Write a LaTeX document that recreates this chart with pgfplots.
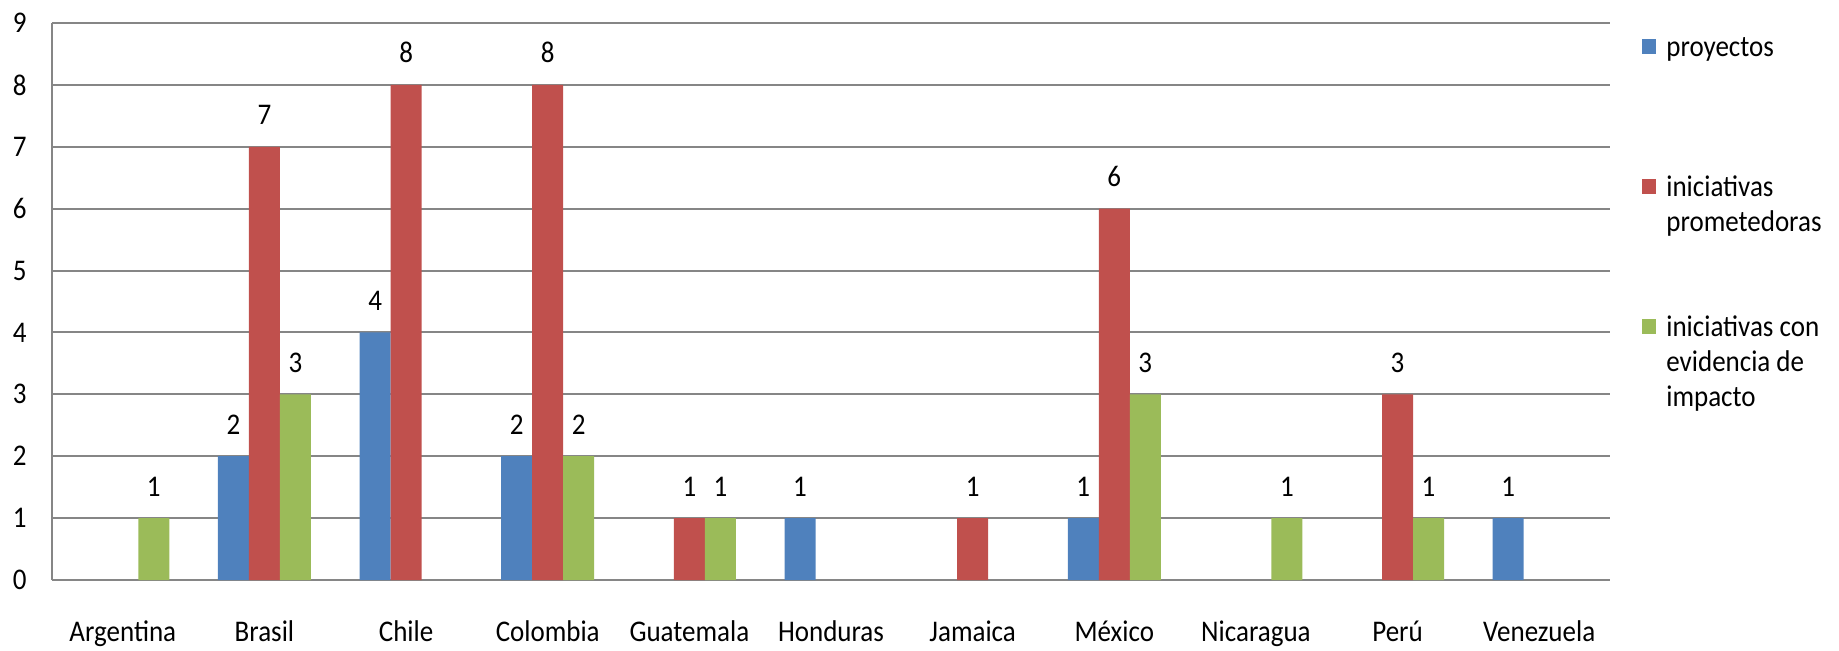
\documentclass[border=0pt]{standalone}
\usepackage{fontspec}
\setmainfont[FakeStretch=0.9]{Carlito}
\usepackage{pgfplots}
\pgfplotsset{compat=1.18}

\definecolor{cblue}{HTML}{4F81BD}
\definecolor{cred}{HTML}{C0504D}
\definecolor{cgreen}{HTML}{9BBB59}
\definecolor{cgrid}{HTML}{868686}

% one legend line with no square
\newcommand{\legline}[1]{\addlegendimage{empty legend}\addlegendentry{#1}}

\begin{document}
\fontsize{15}{19}\selectfont
\begin{tikzpicture}
% page frame, 1 px = 0.5pt
\useasboundingbox (-26pt,-35pt) rectangle (893.5pt,290pt);
\begin{axis}[
    ybar=0pt,
    bar width=15.5pt,
    scale only axis,
    width=779pt,
    height=278.5pt,
    xmin=-0.5, xmax=10.5,
    ymin=0, ymax=9,
    xtick={0,...,10},
    xticklabels={Argentina,Brasil,Chile,Colombia,Guatemala,Honduras,Jamaica,México,Nicaragua,Perú,Venezuela},
    ytick={0,...,9},
    major tick length=0pt,
    axis x line*=bottom,
    axis y line*=left,
    axis line style={cgrid, line width=1pt, -},
    ymajorgrids,
    grid style={cgrid, line width=1pt},
    /pgf/number format/assume math mode=true,
    yticklabel style={anchor=east, inner sep=0pt, xshift=-12.5pt},
    xticklabel style={anchor=base, inner sep=0pt, yshift=-30.5pt},
    nodes near coords,
    every node near coord/.append style={anchor=base, inner sep=0pt, yshift=11pt, black},
    legend image code/.code={\fill[#1] (0pt,1pt) rectangle (7pt,8.5pt);},
    legend style={at={(axis description cs:1.0205,0.9957)}, anchor=north west,
        draw=none, fill=none, inner sep=0pt, column sep=3pt,
        row sep={17.5pt,between origins},
        cells={anchor=base west, inner sep=0pt}},
]
% proyectos
\addplot[fill=cblue, draw=none] coordinates {
    (1,2) (2,4) (3,2) (5,1) (7,1) (10,1)
};
\addlegendentry{\strut proyectos}
\legline{\strut}\legline{\strut}\legline{\strut}
% iniciativas prometedoras
\addplot[fill=cred, draw=none] coordinates {
    (1,7) (2,8) (3,8) (4,1) (6,1) (7,6) (9,3)
};
\addlegendentry{\strut iniciativas}
\legline{\strut prometedoras}\legline{\strut}\legline{\strut}
% iniciativas con evidencia de impacto
\addplot[fill=cgreen, draw=none] coordinates {
    (0,1) (1,3) (3,2) (4,1) (7,3) (8,1) (9,1)
};
\addlegendentry{\strut iniciativas con}
\legline{\strut evidencia de}\legline{\strut impacto}
\end{axis}
\end{tikzpicture}
\end{document}
